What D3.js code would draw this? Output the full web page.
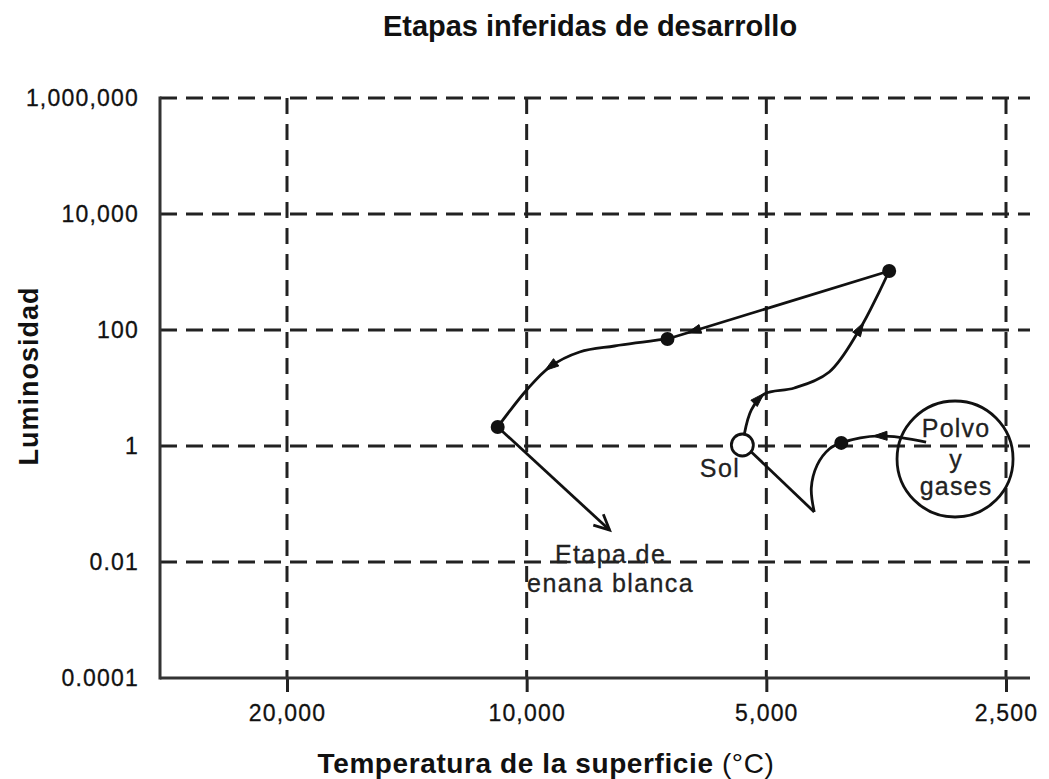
<!DOCTYPE html>
<html><head><meta charset="utf-8">
<script src="https://cdn.jsdelivr.net/npm/d3@7"></script>
<style>body{margin:0;background:#fff} svg{display:block}</style>
</head><body>
<svg id="c" width="1049" height="779"></svg>
<script>
// ---------- data ----------
const chartTitle = "Etapas inferidas de desarrollo";
const xTitle = "Temperatura de la superficie ";
const xUnit = "(°C)";
const yTitle = "Luminosidad";
const xTicks = [20000, 10000, 5000, 2500];
const xTickLabels = ["20,000", "10,000", "5,000", "2,500"];
const yTicks = [1e6, 1e4, 100, 1, 0.01, 0.0001];
const yTickLabels = ["1,000,000", "10,000", "100", "1", "0.01", "0.0001"];

// evolutionary track, [temperature °C, luminosity]
const trackCollapse = [[3150,1.17],[3608,1.49],[4026,1.13],[4168,0.888],[4316,0.47],[4390,0.189],[4353,0.0728]];
const trackToSun = [[4353,0.0728],[5221,0.788]];
const trackSunToGiant = [[5328,1.61],[5221,4.18],[5028,7.88],[4611,10],[4168,18.9],[3822,100],[3608,452],[3505,1040]];
const trackGiantDescent = [[3505,1040],[6655,70]];
const trackToDwarf = [[6655,70],[7756,53],[8580,41.8],[9357,23],[10000,9.24],[10874,2.13]];
const trackDwarfFade = [[10874,2.13],[7868,0.0356]];

const stagePoints = [[3505,1040],[6655,70],[10874,2.13],[4026,1.13]];
const sunPoint = [5359,1.04];
const cloudPoint = [2897,0.597];
const arrowMarks = [
  {seg: 0, at: [3608,1.49]},
  {seg: 2, at: [5102,7.0]},
  {seg: 2, at: [3800,108]},
  {seg: 3, at: [6191,100]},
  {seg: 4, at: [9357,23]}
];
const sunLabel = "Sol";
const cloudLabel = ["Polvo", "y", "gases"];
const dwarfLabel = ["Etapa de", "enana blanca"];

// ---------- drawing ----------
const svg = d3.select("#c");
const font = "'Liberation Sans', Arial, Helvetica, sans-serif";
const ink = "#111";

const x = d3.scaleLog().domain([xTicks[0], xTicks[xTicks.length - 1]]).range([287, 1006]);
const y = d3.scaleLog().domain([yTicks[yTicks.length - 1], yTicks[0]]).range([678, 98]);
const plotLeft = 160, plotRight = 1030;
const plotTop = y(yTicks[0]), plotBottom = y(yTicks[yTicks.length - 1]);

// grid
svg.append("g").selectAll("line").data(yTicks.slice(0, -1)).join("line")
  .attr("x1", plotLeft).attr("x2", plotRight)
  .attr("y1", d => y(d)).attr("y2", d => y(d))
  .attr("stroke", "#222").attr("stroke-width", 3).attr("stroke-dasharray", "17 9");
svg.append("g").selectAll("line").data(xTicks).join("line")
  .attr("x1", d => x(d)).attr("x2", d => x(d))
  .attr("y1", plotTop).attr("y2", plotBottom)
  .attr("stroke", "#222").attr("stroke-width", 3).attr("stroke-dasharray", "16 10");

// axes
const xAxis = d3.axisBottom(x).tickValues(xTicks)
  .tickFormat((d, i) => xTickLabels[i]).tickSize(14).tickPadding(13);
const gx = svg.append("g").attr("transform", `translate(0,${plotBottom})`).call(xAxis);
gx.select(".domain").remove();
gx.selectAll(".tick line").attr("stroke", "#222").attr("stroke-width", 3);
gx.selectAll(".tick text").attr("font-family", font).attr("font-size", 23)
  .attr("letter-spacing", 1.2).attr("fill", ink)
  .attr("stroke", ink).attr("stroke-width", 0.3);

const yAxis = d3.axisLeft(y).tickValues(yTicks)
  .tickFormat((d, i) => yTickLabels[i]).tickSize(0).tickPadding(21);
const gy = svg.append("g").attr("transform", `translate(${plotLeft},0)`).call(yAxis);
gy.select(".domain").remove();
gy.selectAll(".tick text").attr("font-family", font).attr("font-size", 23)
  .attr("letter-spacing", 1.2).attr("fill", ink)
  .attr("stroke", ink).attr("stroke-width", 0.3);

svg.append("line").attr("x1", plotLeft).attr("x2", plotRight)
  .attr("y1", plotBottom).attr("y2", plotBottom)
  .attr("stroke", "#333").attr("stroke-width", 3);
svg.append("line").attr("x1", plotLeft).attr("x2", plotLeft)
  .attr("y1", plotTop - 1.5).attr("y2", plotBottom + 1.5)
  .attr("stroke", "#333").attr("stroke-width", 3);

// titles
svg.append("text").attr("x", 590).attr("y", 36).attr("text-anchor", "middle")
  .attr("font-family", font).attr("font-size", 29).attr("font-weight", "bold")
  .attr("fill", ink).text(chartTitle);
const xt = svg.append("text").attr("x", 546).attr("y", 773).attr("text-anchor", "middle")
  .attr("font-family", font).attr("font-size", 28).attr("fill", ink).attr("letter-spacing", 0.6);
xt.append("tspan").attr("font-weight", "bold").text(xTitle);
xt.append("tspan").attr("font-weight", "normal").text(xUnit);
svg.append("text").attr("transform", "translate(38,376) rotate(-90)").attr("text-anchor", "middle")
  .attr("font-family", font).attr("font-size", 27).attr("font-weight", "bold")
  .attr("letter-spacing", 1).attr("fill", ink).text(yTitle);

// track
const curved = d3.line().x(d => x(d[0])).y(d => y(d[1])).curve(d3.curveCatmullRom.alpha(0.5));
const straight = d3.line().x(d => x(d[0])).y(d => y(d[1]));
const segments = [
  {pts: trackCollapse, gen: curved},
  {pts: trackToSun, gen: straight},
  {pts: trackSunToGiant, gen: curved},
  {pts: trackGiantDescent, gen: straight},
  {pts: trackToDwarf, gen: curved},
  {pts: trackDwarfFade, gen: straight}
];
const gTrack = svg.append("g");
const segNodes = segments.map(s => gTrack.append("path").attr("d", s.gen(s.pts))
  .attr("fill", "none").attr("stroke", ink).attr("stroke-width", 2.8)
  .attr("stroke-linejoin", "round").node());

// mid-track arrows
function locate(node, px, py) {
  const L = node.getTotalLength();
  let best = 0, bd = Infinity;
  for (let l = 0; l <= L; l += 0.5) {
    const p = node.getPointAtLength(l);
    const dd = (p.x - px) ** 2 + (p.y - py) ** 2;
    if (dd < bd) { bd = dd; best = l; }
  }
  const p = node.getPointAtLength(best);
  const a = node.getPointAtLength(Math.max(0, best - 3));
  const b = node.getPointAtLength(Math.min(L, best + 3));
  const len = Math.hypot(b.x - a.x, b.y - a.y) || 1;
  return {p, dx: (b.x - a.x) / len, dy: (b.y - a.y) / len};
}
arrowMarks.forEach(m => {
  const {p, dx, dy} = locate(segNodes[m.seg], x(m.at[0]), y(m.at[1]));
  const tip = [p.x + dx * 6, p.y + dy * 6];
  const base = [p.x - dx * 8, p.y - dy * 8];
  const nx = -dy, ny = dx;
  gTrack.append("path")
    .attr("d", `M${tip}L${base[0] + nx * 4.5},${base[1] + ny * 4.5}L${base[0] - nx * 4.5},${base[1] - ny * 4.5}Z`)
    .attr("fill", ink).attr("stroke", ink).attr("stroke-width", 1);
});

// end arrow (white dwarf)
{
  const a = trackDwarfFade[0], b = trackDwarfFade[1];
  const tx = x(b[0]), ty = y(b[1]);
  const ang = Math.atan2(ty - y(a[1]), tx - x(a[0]));
  const wl = 17, th = Math.PI / 7;
  const w1 = [tx - wl * Math.cos(ang - th), ty - wl * Math.sin(ang - th)];
  const w2 = [tx - wl * Math.cos(ang + th), ty - wl * Math.sin(ang + th)];
  gTrack.append("path").attr("d", `M${w1}L${tx},${ty}L${w2}`)
    .attr("fill", "none").attr("stroke", ink).attr("stroke-width", 2.8);
}

// stage dots
svg.append("g").selectAll("circle").data(stagePoints).join("circle")
  .attr("cx", d => x(d[0])).attr("cy", d => y(d[1])).attr("r", 7).attr("fill", ink);

// sun
svg.append("circle").attr("cx", x(sunPoint[0])).attr("cy", y(sunPoint[1])).attr("r", 11)
  .attr("fill", "#fff").attr("stroke", ink).attr("stroke-width", 2.8);
svg.append("text").attr("x", x(sunPoint[0]) - 2).attr("y", y(sunPoint[1]) + 32)
  .attr("text-anchor", "end").attr("font-family", font).attr("font-size", 25)
  .attr("letter-spacing", 1.5).attr("fill", "#222").attr("stroke", "#222").attr("stroke-width", 0.3)
  .text(sunLabel);

// dust cloud
const cx = x(cloudPoint[0]), cy = y(cloudPoint[1]);
svg.append("circle").attr("cx", cx).attr("cy", cy).attr("r", 58)
  .attr("fill", "none").attr("stroke", ink).attr("stroke-width", 2.8);
[ -22, 9, 36 ].forEach((off, i) => {
  svg.append("text").attr("x", cx + 1).attr("y", cy + off).attr("text-anchor", "middle")
    .attr("font-family", font).attr("font-size", 25).attr("letter-spacing", 1.2)
    .attr("fill", "#222").attr("stroke", "#222").attr("stroke-width", 0.3)
    .text(cloudLabel[i]);
});

// white dwarf label
const dwx = x(trackDwarfFade[1][0]), dwy = y(trackDwarfFade[1][1]);
dwarfLabel.forEach((t, i) => {
  svg.append("text").attr("x", dwx + 1).attr("y", dwy + 33 + i * 29).attr("text-anchor", "middle")
    .attr("font-family", font).attr("font-size", 25).attr("letter-spacing", 1.4)
    .attr("fill", "#222").attr("stroke", "#222").attr("stroke-width", 0.3)
    .text(t);
});
</script>
</body></html>
